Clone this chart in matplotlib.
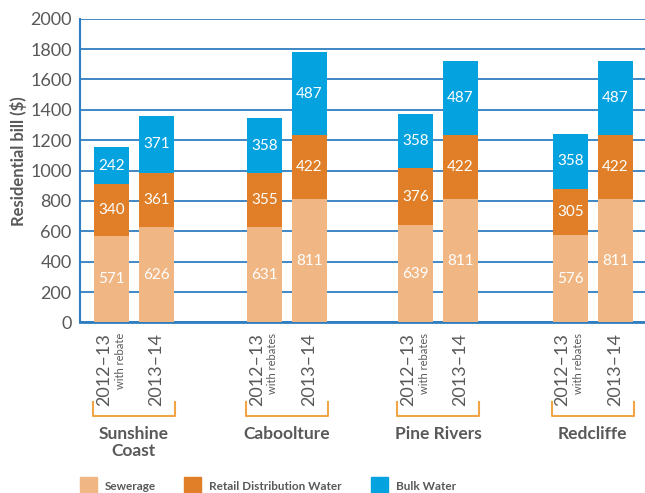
import numpy as np
import matplotlib.pyplot as plt
from matplotlib.patches import Rectangle
from matplotlib.transforms import blended_transform_factory

plt.rcParams['font.family'] = ['Lato', 'DejaVu Sans']

# data
groups = ['Sunshine\nCoast', 'Caboolture', 'Pine Rivers', 'Redcliffe']
periods = ['2012\u201313', '2013\u201314']
rebate_notes = ['with rebate', 'with rebates', 'with rebates', 'with rebates']
sewerage = [571, 626, 631, 811, 639, 811, 576, 811]
retail = [340, 361, 355, 422, 376, 422, 305, 422]
# drawn heights of the bulk segments (Caboolture 2013-14 is drawn taller than its label)
bulk = [242, 371, 358, 546, 358, 487, 358, 487]
bulk_labels = [242, 371, 358, 487, 358, 487, 358, 487]

series_names = ['Sewerage', 'Retail Distribution Water', 'Bulk Water']
colors = ['#F0B784', '#E07F27', '#05A2E0']
grey = '#595959'
blue = '#2F7EC1'

group_centers = np.array([0, 3.4, 6.76, 10.2])
x = np.array([[c - 0.5, c + 0.5] for c in group_centers]).ravel()
width = 0.78

fig = plt.figure(figsize=(6.45, 4.93), dpi=100)
ax = fig.add_axes([0.124, 0.346, 0.876, 0.616])

bottom = np.zeros(len(x))
for vals, labels, col in zip([sewerage, retail, bulk],
                             [sewerage, retail, bulk_labels], colors):
    vals = np.array(vals)
    ax.bar(x, vals, width, bottom=bottom, color=col, zorder=3)
    for xi, b, v, lab in zip(x, bottom, vals, labels):
        ax.text(xi, b + v / 2, str(lab), ha='center', va='center',
                color='white', fontsize=11, zorder=4)
    bottom += vals

ax.set_ylim(0, 2000)
ax.set_xlim(-1.2, 11.36)
ax.set_yticks(range(0, 2001, 200))
ax.yaxis.grid(True, color=blue, lw=1.3, zorder=0)
ax.set_axisbelow(True)
ax.set_xticks([])
ax.tick_params(axis='y', length=0, pad=6, labelsize=13, labelcolor=grey)
for s in ['top', 'right']:
    ax.spines[s].set_visible(False)
ax.spines['left'].set_color(blue)
ax.spines['left'].set_linewidth(1.5)
ax.spines['bottom'].set_color(blue)
ax.spines['bottom'].set_linewidth(2)
ax.set_ylabel('Residential bill ($)', fontsize=12, fontweight='bold',
              color=grey)
ax.yaxis.set_label_coords(-0.094, 0.53)

# category labels below the axis
trans = blended_transform_factory(ax.transData, fig.transFigure)
px = 1 / 493
for gi, c in enumerate(group_centers):
    x0, x1 = c - 0.5, c + 0.5
    ax.text(x0 - 0.17, 1 - 333 * px, periods[0], rotation=90, ha='center',
            va='top', fontsize=13, color=grey, transform=trans)
    ax.text(x0 + 0.19, 1 - 333 * px, rebate_notes[gi], rotation=90,
            ha='center', va='top', fontsize=8, color=grey, transform=trans)
    ax.text(x1, 1 - 333 * px, periods[1], rotation=90, ha='center',
            va='top', fontsize=13, color=grey, transform=trans)
    bx0, bx1 = x0 - width / 2 - 0.02, x1 + width / 2 + 0.02
    ax.plot([bx0, bx0, bx1, bx1], [1 - 402 * px, 1 - 416 * px, 1 - 416 * px, 1 - 402 * px],
            color='#F2A547', lw=1.5, transform=trans, clip_on=False)
    ax.text(c, 1 - 426 * px, groups[gi], ha='center', va='top', fontsize=12.5,
            fontweight='bold', color=grey, transform=trans, linespacing=1.1)

# legend
legend_x = [80, 184, 371]
for lx, name, col in zip(legend_x, series_names, colors):
    fig.add_artist(Rectangle((lx / 645, 1 - 493 * px), 17 / 645, 16 * px,
                             transform=fig.transFigure, color=col))
    fig.text((lx + 25) / 645, 1 - 486 * px, name, ha='left', va='center',
             fontsize=8.5, fontweight='bold', color=grey)

fig.savefig('out.png', dpi=100)
